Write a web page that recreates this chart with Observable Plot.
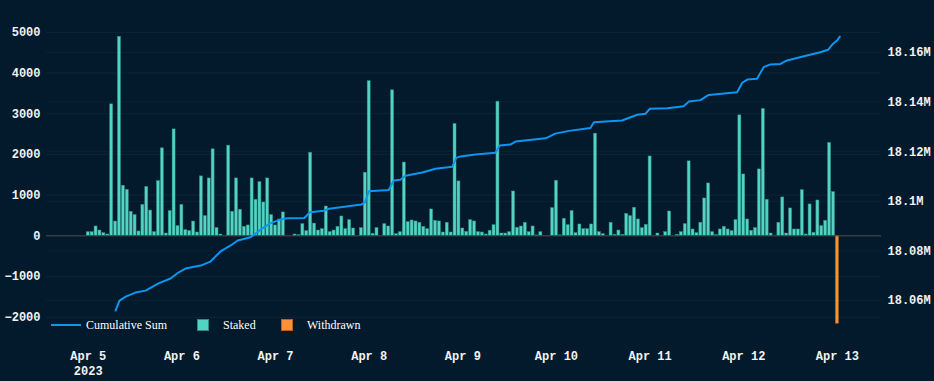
<!DOCTYPE html>
<html><head><meta charset="utf-8">
<script src="https://cdn.jsdelivr.net/npm/d3@7"></script>
<script src="https://cdn.jsdelivr.net/npm/@observablehq/plot@0.6"></script>
<style>
html,body{margin:0;padding:0;background:#021a2b;}
#wrap{position:relative;width:934px;height:381px;background:#021a2b;overflow:hidden;}
.lg{position:absolute;font-family:"Liberation Serif","Times New Roman",serif;font-size:12px;color:#fff;line-height:14px;white-space:nowrap;}
.sw{position:absolute;width:11px;height:11px;box-sizing:border-box;}
</style>
</head><body>
<div id="wrap"></div>
<script>
// ---- data ----
const startDate = "2023-04-05T00:00Z";           // first hourly bar
const staked = [90,90,230,130,65,33,3230,350,4890,1230,1130,590,510,107,760,1200,620,90,1345,2150,57,607,2615,238,760,140,115,350,82,1460,484,1410,2125,190,33,0,2215,590,1410,640,220,255,1410,885,1320,820,1410,510,255,400,575,
0,0,33,16,287,115,2040,300,130,165,720,90,130,220,475,164,385,180,0,189,1550,3800,50,189,0,287,230,3575,41,90,1800,336,377,353,320,221,164,648,369,353,82,320,82,2747,1337,180,98,385,353,90,82,33,123,262,3296,57,57,90,1090,197,230,320,90,230,10,90,0,0,680,1353,
10,418,262,607,66,279,164,164,279,2510,90,41,0,320,25,131,25,541,484,689,402,189,270,1950,0,57,0,90,598,0,25,90,287,1830,156,66,320,918,1287,90,16,156,221,156,115,385,2960,1508,402,123,189,1632,3116,886,57,0,320,943,57,672,156,156,1123,33,771,74,869,238,369,2280,1074];
const withdrawnHour = [192];
const withdrawn = [-2160];
const lineHours = [7,8,9.6,12.1,14.7,18,21.1,23.1,24.9,28.8,31.3,33.9,36.5,38.3,41.6,44.2,46.5,49.3,51,55.4,56.8,60.4,61.7,64.7,70,70.9,71.9,77,78.3,80,81.3,85.6,89,93.3,94.3,95.4,99.2,104.4,105.4,108.2,109.5,117.2,119.7,123.2,128.7,129.6,136.8,140.7,142.8,143.9,148.4,152.6,153.9,156.9,159,166.3,167.6,168.9,171.4,173.1,174.8,177.4,179.1,183.4,187.6,189.6,190.7,191.9,192.6];
const lineValues = [18.05597,18.06,18.0616,18.0632,18.064,18.0669,18.0689,18.0713,18.0729,18.0741,18.0757,18.0798,18.0822,18.0842,18.0855,18.0886,18.091,18.0927,18.0932,18.0933,18.0956,18.0962,18.097,18.0976,18.0987,18.0996,18.1041,18.1046,18.1084,18.1087,18.1103,18.1116,18.1131,18.1139,18.1175,18.1181,18.1189,18.1196,18.1225,18.1229,18.1241,18.1254,18.1273,18.1284,18.1296,18.1319,18.1326,18.1349,18.1353,18.1373,18.1375,18.1383,18.1402,18.1408,18.1429,18.144,18.1478,18.1491,18.1494,18.1541,18.1552,18.1554,18.1568,18.1585,18.1601,18.1611,18.1632,18.1648,18.1664];
const leftTicks = [-2000,-1000,0,1000,2000,3000,4000,5000];
const rightTicks = [18.06,18.08,18.1,18.12,18.14,18.16];
const rightLabels = ["18.06M","18.08M","18.1M","18.12M","18.14M","18.16M"];
const dayTicks = ["2023-04-05","2023-04-06","2023-04-07","2023-04-08","2023-04-09","2023-04-10","2023-04-11","2023-04-12","2023-04-13"];
const dayLabels = ["Apr 5\n2023","Apr 6","Apr 7","Apr 8","Apr 9","Apr 10","Apr 11","Apr 12","Apr 13"];
const legendLabels = ["Cumulative Sum","Staked","Withdrawn"];

// ---- helpers ----
const H = 3600e3;
const t0 = +new Date(startDate);
const at = h => new Date(t0 + h*H);
const R0 = 18.06, R1 = 18.16, L0 = -1590, L1 = 4504;
const toLeft = v => L0 + (v - R0) / (R1 - R0) * (L1 - L0);

const bars = staked.map((v,i)=>({h:i, v}));
const wbars = withdrawn.map((v,i)=>({h:withdrawnHour[i], v}));
const line = lineHours.map((h,i)=>({t:at(h), y:toLeft(lineValues[i])}));
const ticks = dayTicks.map(d=>new Date(d+"T00:00Z"));

const axisFont = {fontFamily:"'Liberation Mono','Courier New',monospace", fontSize:12, fontWeight:"bold", fill:"#f2f2f2"};

const chart = Plot.plot({
  width: 934, height: 381,
  marginLeft: 46, marginRight: 53, marginTop: 10, marginBottom: 41,
  style: {background:"#021a2b", overflow:"visible"},
  x: {type:"utc", domain:[at(-10.7), at(203.3)]},
  y: {domain:[-2572, 5536]},
  marks: [
    Plot.gridY(leftTicks, {stroke:"#ffffff", strokeOpacity:0.05}),
    Plot.gridY(rightTicks.map(toLeft), {stroke:"#ffffff", strokeOpacity:0.04}),
    Plot.rectY(bars, {x1:d=>at(d.h-0.5), x2:d=>at(d.h+0.5), y:"v", fill:"#52d3c3", stroke:"#2e8c84", strokeWidth:0.5, insetLeft:0.45, insetRight:0.45}),
    Plot.rectY(wbars, {x1:d=>at(d.h-0.5), x2:d=>at(d.h+0.5), y:"v", fill:"#f7923b", stroke:"#b8621f", strokeWidth:0.5, insetLeft:0.45, insetRight:0.45}),
    Plot.ruleY([0], {stroke:"#4e4a46", strokeWidth:1}),
    Plot.line(line, {x:"t", y:"y", stroke:"#0b96f2", strokeWidth:2}),
    Plot.axisY({ticks:leftTicks, tickSize:0, tickPadding:6, tickFormat:d=>String(d).replace("-","\u2212"), label:null, ...axisFont}),
    Plot.axisY({anchor:"right", ticks:rightTicks.map(toLeft), tickSize:0, tickPadding:6, tickFormat:(d,i)=>rightLabels[i], label:null, ...axisFont}),
    Plot.axisX({ticks:ticks, tickSize:0, tickPadding:9, tickFormat:(d,i)=>dayLabels[i], label:null, lineHeight:1.25, ...axisFont})
  ]
});
const wrap = document.getElementById("wrap");
wrap.appendChild(chart);

// legend
function el(cls, css, txt){const e=document.createElement("div");e.className=cls;Object.assign(e.style,css);if(txt)e.textContent=txt;wrap.appendChild(e);}
el("sw",{left:"51px",top:"324px",width:"30px",height:"2px",background:"#0b96f2"});
el("lg",{left:"86px",top:"318px"},legendLabels[0]);
el("sw",{left:"197px",top:"319px",background:"#52d3c3",border:"1px solid #2e8c84",width:"12px",height:"12px"});
el("lg",{left:"223px",top:"318px"},legendLabels[1]);
el("sw",{left:"281px",top:"319px",background:"#f7923b",border:"1px solid #b8621f",width:"12px",height:"12px"});
el("lg",{left:"307px",top:"318px"},legendLabels[2]);
</script>
</body></html>
